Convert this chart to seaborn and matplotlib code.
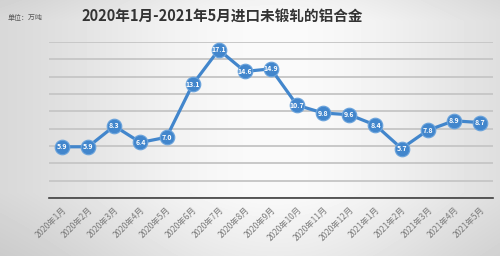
import numpy as np
import pandas as pd
import matplotlib
matplotlib.use("Agg")
import matplotlib.pyplot as plt
import seaborn as sns

months = ["2020年1月", "2020年2月", "2020年3月", "2020年4月", "2020年5月", "2020年6月",
          "2020年7月", "2020年8月", "2020年9月", "2020年10月", "2020年11月", "2020年12月",
          "2021年1月", "2021年2月", "2021年3月", "2021年4月", "2021年5月"]
values = [5.9, 5.9, 8.3, 6.4, 7.0, 13.1, 17.1, 14.6, 14.9, 10.7, 9.8, 9.6, 8.4, 5.7, 7.8, 8.9, 8.7]
title = "2020年1月-2021年5月进口未锻轧的铝合金"
unit_label = "单位：万吨"

sns.set_style("white")
plt.rcParams['font.family'] = ['Noto Sans CJK SC', 'DejaVu Sans']

fig = plt.figure(figsize=(5.0, 2.56), dpi=100)

# background gradient
bg = fig.add_axes([0, 0, 1, 1], zorder=-10)
h, w = 256, 500
yy, xx = np.mgrid[0:h, 0:w]
xn = xx / w
yn = yy / h
horiz = 0.81 + 0.17 * np.exp(-((xn - 0.55) / 0.45) ** 2)
vert = 1.0 - 0.06 * np.clip((yn - 0.75) / 0.25, 0, 1) - 0.03 * np.clip((0.08 - yn) / 0.08, 0, 1)
img = np.clip(horiz * vert, 0, 1)
bg.imshow(img, cmap="gray", vmin=0, vmax=1, aspect="auto", extent=[0, 1, 0, 1])
bg.set_axis_off()

ax = fig.add_axes([0.098, 0.227, 0.888, 0.609])
ax.patch.set_alpha(0)

df = pd.DataFrame({"month": months, "value": values, "x": np.arange(len(months))})
color = "#4286cc"
sns.lineplot(data=df, x="x", y="value", ax=ax, color=color, linewidth=2.3,
             marker="o", markersize=10.5, markeredgecolor="#6aa3dc", markeredgewidth=0.8,
             clip_on=False, zorder=5)

for xi, v in zip(df["x"], df["value"]):
    ax.text(xi, v, f"{v:.1f}", ha="center", va="center", color="white",
            fontsize=5, fontweight="bold", zorder=6)

ax.set_xlim(-0.5, len(months) - 0.5)
ax.set_ylim(0, 18)
ax.set_yticks(np.arange(0, 19, 2))
ax.tick_params(axis="y", length=0, labelleft=False)
ax.yaxis.grid(True, color="#c8c8c8", linewidth=1.4)
ax.set_axisbelow(True)

ax.set_xticks(df["x"])
ax.set_xticklabels(months, rotation=45, ha="right", va="top", fontsize=6, color="#7a7a7a",
                   rotation_mode="anchor")
ax.tick_params(axis="x", which="major", length=0, pad=5)
ax.set_xticks(np.arange(-0.5, len(months), 1), minor=True)
ax.tick_params(axis="x", which="minor", length=3, width=1, color="#404040", direction="out")

for s in ["top", "right", "left"]:
    ax.spines[s].set_visible(False)
ax.spines["bottom"].set_color("#404040")
ax.spines["bottom"].set_linewidth(1.2)
ax.set_xlabel("")
ax.set_ylabel("")

fig.text(0.445, 0.935, title, ha="center", va="center", fontsize=10.5,
         fontweight="bold", color="#333333")
fig.text(0.016, 0.93, unit_label, ha="left", va="center", fontsize=5, color="#555555")

fig.savefig("out.png", dpi=100)
